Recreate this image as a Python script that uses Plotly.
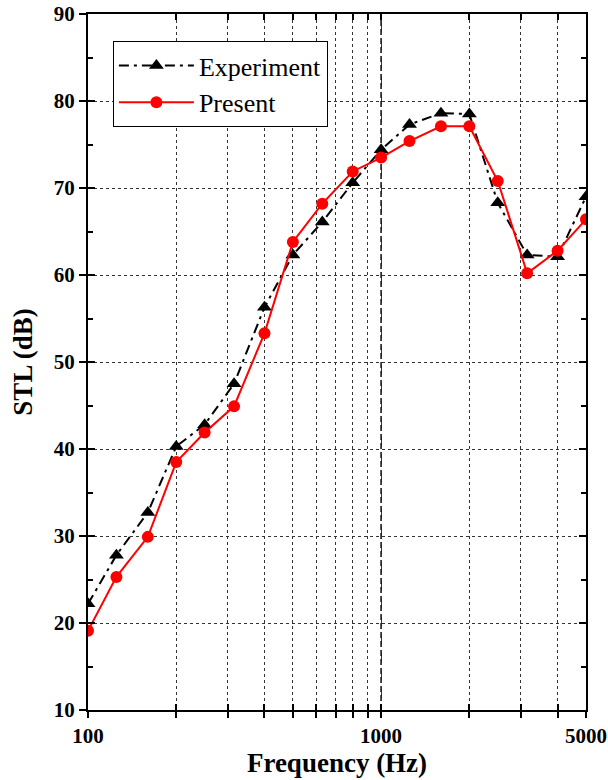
import math
import plotly.graph_objects as go

freq = [100, 125, 160, 200, 250, 315, 400, 500, 630, 800, 1000, 1250, 1600, 2000, 2500, 3150, 4000, 5000]
experiment = [22.2, 27.8, 32.7, 40.3, 42.8, 47.5, 56.3, 62.3, 66.1, 70.6, 74.4, 77.3, 78.6, 78.5, 68.3, 62.3, 62.1, 69.0]
present = [19.1, 25.3, 29.9, 38.5, 41.9, 44.9, 53.3, 63.8, 68.2, 71.9, 73.5, 75.4, 77.1, 77.1, 70.8, 60.2, 62.8, 66.4]

x_ticks = [100, 200, 300, 400, 500, 600, 700, 800, 900, 1000, 2000, 3000, 4000, 5000]
x_labels = ["100", "", "", "", "", "", "", "", "", "1000", "", "", "", "5000"]
y_ticks = [10, 20, 30, 40, 50, 60, 70, 80, 90]
x_range = [100, 5000]
y_range = [10, 90]

serif = "Liberation Serif, Times New Roman, serif"
xr = [math.log10(x_range[0]), math.log10(x_range[1])]

fig = go.Figure()
fig.add_trace(go.Scatter(
    x=freq, y=experiment, name="Experiment", mode="lines+markers",
    line=dict(color="black", width=2, dash="10px,5px,3px,5px"),
    marker=dict(symbol="triangle-up", size=13, color="black"),
))
fig.add_trace(go.Scatter(
    x=freq, y=present, name="Present", mode="lines+markers",
    line=dict(color="#ff0000", width=2),
    marker=dict(symbol="circle", size=12, color="#ff0000"),
))
# invisible trace to activate overlay axes (inside ticks)
fig.add_trace(go.Scatter(
    x=freq, y=present, xaxis="x2", yaxis="y2", mode="lines",
    line=dict(width=0), opacity=0, showlegend=False, hoverinfo="skip",
))

# dashed line at 1000 Hz
fig.add_shape(type="line", xref="x", yref="paper", x0=1000, x1=1000, y0=0, y1=1,
              line=dict(color="black", width=1.5, dash="6px,3px"), layer="below")

axis_common = dict(linecolor="black", linewidth=2, tickcolor="black", tickwidth=2, automargin=False)

fig.update_layout(
    width=608, height=780,
    margin=dict(l=88, r=22, t=14, b=70),
    plot_bgcolor="white", paper_bgcolor="white",
    font=dict(family=serif, color="black"),
    showlegend=True,
    legend=dict(
        x=0.05, y=0.961, xanchor="left", yanchor="top",
        bgcolor="white", bordercolor="black", borderwidth=1,
        font=dict(family=serif, size=26, color="black"),
        itemwidth=75, tracegroupgap=0,
    ),
    xaxis=dict(
        type="log", range=xr, tickmode="array", tickvals=x_ticks, ticktext=x_labels,
        ticks="outside", ticklen=6, showline=True, mirror=True,
        showgrid=True, gridcolor="#333333", gridwidth=1, griddash="dot",
        tickfont=dict(family=serif, size=21, color="black", weight="bold"),
        title=dict(text="<b>Frequency (Hz)</b>", font=dict(family=serif, size=27, color="black"), standoff=4),
        zeroline=False, **axis_common,
    ),
    xaxis2=dict(
        type="log", range=xr, overlaying="x", side="bottom", tickmode="array", tickvals=x_ticks,
        ticks="inside", ticklen=6, showticklabels=False, showgrid=False, showline=True, mirror="ticks",
        zeroline=False, **axis_common,
    ),
    yaxis=dict(
        range=y_range, tickmode="array", tickvals=y_ticks,
        ticks="outside", ticklen=7, showline=True, mirror=True,
        showgrid=True, gridcolor="#333333", gridwidth=1, griddash="dot",
        tickfont=dict(family=serif, size=21, color="black", weight="bold"),
        title=dict(text="<b>STL (dB)</b>", font=dict(family=serif, size=27, color="black"), standoff=13),
        zeroline=False, **axis_common,
    ),
    yaxis2=dict(
        range=y_range, overlaying="y", side="left", tickmode="array", tickvals=y_ticks,
        ticks="inside", ticklen=7, showticklabels=False, showgrid=False, showline=True, mirror="ticks",
        minor=dict(dtick=5, ticks="inside", ticklen=5, tickwidth=2, tickcolor="black", showgrid=False),
        zeroline=False, **axis_common,
    ),
)

fig.write_html("out.html")
